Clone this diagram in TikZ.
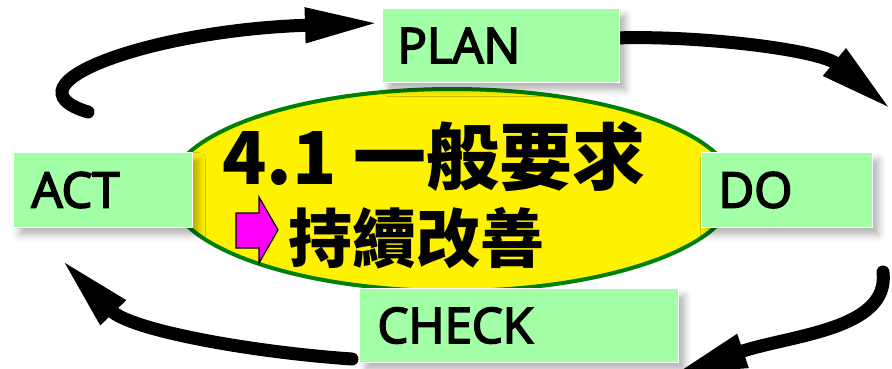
\documentclass[tikz,border=0pt]{standalone}
\usepackage{fontspec}
\setmainfont{Open Sans}
\newfontfamily\labfont{Open Sans}[FakeBold=3.5]
\newfontfamily\cjk{Noto Sans CJK TC}
\usetikzlibrary{shapes.geometric,arrows.meta,shadows.blur}
\definecolor{boxgreen}{RGB}{163,255,165}
\definecolor{ringgreen}{RGB}{0,128,0}
\definecolor{arrowpink}{RGB}{255,0,255}
\begin{document}
\begin{tikzpicture}[x=1pt,y=-1pt,
  box/.style={rectangle, fill=boxgreen, draw=white, line width=1pt, anchor=north west,
    align=left, inner ysep=0pt, text=black,
    font=\labfont\fontsize{49}{54}\selectfont,
    blur shadow={shadow xshift=6pt, shadow yshift=-7pt, shadow blur radius=7pt, shadow opacity=30}},
  cyc/.style={line width=13pt, line cap=round, -{Triangle[length=75pt,width=32pt]}},
  ring/.style={ellipse, fill=yellow, draw=ringgreen, line width=4pt},
  bigtext/.style={anchor=base west, inner sep=0pt, text=black}]
\useasboundingbox (0,0) rectangle (892,368);
\clip (0,0) rectangle (892,368);

% cycle arrows
\coordinate (a1s) at (88,112);  \coordinate (a1e) at (380,23);
\coordinate (a2s) at (614,38);  \coordinate (a2e) at (892,110);
\coordinate (a3s) at (883,272); \coordinate (a3e) at (672,375);
\coordinate (a4s) at (352,359); \coordinate (a4e) at (61,259);
\draw[cyc] (a1s) .. controls (0,85) and (150,30) .. (a1e);
\draw[cyc] (a2s) .. controls (700,35) and (820,50) .. (a2e);
\draw[cyc] (a3s) .. controls (890,330) and (790,335) .. (a3e);
\draw[cyc] (a4s) .. controls (250,352) and (130,330) .. (a4e);

% central ellipse
\node[ring, minimum width=566pt, minimum height=202pt] (core) at (452,190) {};
\node[bigtext, font=\cjk\bfseries\fontsize{73}{80}\selectfont] (title) at (222,184) {4.1 一般要求};
\draw[fill=arrowpink, draw=black, line width=1.2pt]
  (236,213) -- (259,213) -- (259,197) -- (278,230) -- (259,263) -- (259,248) -- (236,248) -- cycle;
\node[bigtext, font=\cjk\bfseries\fontsize{64}{70}\selectfont] (sub) at (288,262) {持續改善};

% phase boxes
\node[box, minimum width=237pt, minimum height=74pt, inner xsep=15pt, text width=207pt] (plan) at (382,8) {PLAN};
\node[box, minimum width=179pt, minimum height=75pt, inner xsep=18pt, text width=143pt] (act) at (13,152) {ACT};
\node[box, minimum width=171pt, minimum height=75pt, inner xsep=17pt, text width=137pt] (do) at (701,152) {DO};
\node[box, minimum width=319pt, minimum height=74pt, inner xsep=18pt, text width=283pt] (check) at (359,288) {CHECK};
\end{tikzpicture}
\end{document}
